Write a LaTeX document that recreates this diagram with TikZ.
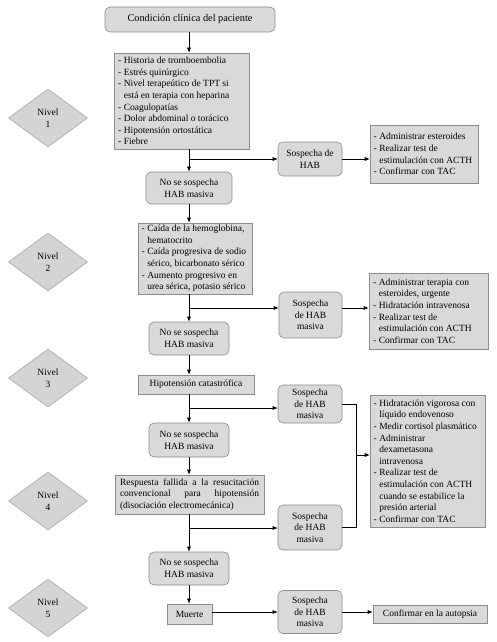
\documentclass[tikz,border=0pt]{standalone}
\usepackage{fontspec}
\setmainfont{Liberation Serif}
\newfontfamily\tnr{Liberation Serif}
\usetikzlibrary{shapes.geometric,arrows.meta}
\definecolor{boxfill}{HTML}{D9D9D9}
\definecolor{boxdraw}{HTML}{8C8C8C}
\definecolor{dfill}{HTML}{D4D4D4}
\definecolor{ddraw}{HTML}{A8A8A8}
\newcommand\fs{\tnr\fontsize{9.5}{11.6}\selectfont}
\newlength\dw
\setlength\dw{5.8pt}
% list helpers: first line of an item, continuation line, whole block
\newcommand\li[1]{\hbox to\hsize{\hbox to\dw{-\hss}#1\hss}}
\newcommand\lc[1]{\hbox to\hsize{\hskip\dw #1\hss}}
\newcommand\lblock[2]{\vbox{\hsize=#1\relax\fs #2}}
\begin{document}
\begin{tikzpicture}[x=1pt,y=-1pt,
  every node/.style={font=\fs, inner sep=0pt},
  rnd/.style={draw=boxdraw, fill=boxfill, rounded corners=5pt, align=center, line width=0.6pt},
  sq/.style={draw=boxdraw, fill=boxfill, line width=0.6pt},
  niv/.style={diamond, draw=ddraw, fill=dfill, minimum width=79pt, minimum height=58pt, align=center, inner sep=0pt, line width=0.6pt},
  arr/.style={-{Latex[length=5pt,width=4pt]}, line width=0.6pt},
  ln/.style={line width=0.6pt}]
\useasboundingbox (0,0) rectangle (497,642);
\fill[white] (0,0) rectangle (497,642);

% level diamonds
\node[niv] (d1) at (48,118) {Nivel\\1};
\node[niv] (d2) at (48,262) {Nivel\\2};
\node[niv] (d3) at (48,378) {Nivel\\3};
\node[niv] (d4) at (48,501) {Nivel\\4};
\node[niv] (d5) at (48,608) {Nivel\\5};

% main column
\node[rnd, minimum width=170pt, minimum height=25pt, font=\tnr\fontsize{10.3}{12}\selectfont] (top) at (190,19.5) {Condición clínica del paciente};
\node[sq, minimum width=135pt, minimum height=96pt] (b1) at (181.5,101) {\lblock{127pt}{%
\li{Historia de tromboembolia}
\li{Estrés quirúrgico}
\li{Nivel terapeútico de TPT si}
\lc{está en terapia con heparina}
\li{Coagulopatías}
\li{Dolor abdominal o torácico}
\li{Hipotensión ortostática}
\li{Fiebre}}};
\node[rnd, minimum width=86pt, minimum height=32pt] (n1) at (189,188) {No se sospecha\\HAB masiva};
\node[sq, minimum width=114pt, minimum height=71pt] (b2) at (195,258.5) {\lblock{107pt}{%
\li{Caída de la hemoglobina,}
\lc{hematocrito}
\li{Caída progresiva de sodio}
\lc{sérico, bicarbonato sérico}
\li{Aumento progresivo en}
\lc{urea sérica, potasio sérico}}};
\node[rnd, minimum width=80pt, minimum height=33pt] (n2) at (189,338.5) {No se sospecha\\HAB masiva};
\node[sq, minimum width=116pt, minimum height=19pt] (b3) at (196,384.5) {Hipotensión catastrófica};
\node[rnd, minimum width=80pt, minimum height=34pt] (n3) at (189,440) {No se sospecha\\HAB masiva};
\node[sq, minimum width=149pt, minimum height=39pt] (b4) at (189.5,494.5) {\lblock{139pt}{%
\hbox to\hsize{Respuesta fallida a la resucitación}
\hbox to\hsize{convencional para hipotensión}
\hbox to\hsize{(disociación electromecánica)\hss}}};
\node[rnd, minimum width=80pt, minimum height=33pt] (n4) at (189,568.5) {No se sospecha\\HAB masiva};
\node[sq, minimum width=45pt, minimum height=20pt] (b5) at (189.5,614) {Muerte};

% suspicion nodes
\node[rnd, minimum width=64pt, minimum height=34pt] (s1) at (310,159) {Sospecha de\\HAB};
\node[rnd, minimum width=63pt, minimum height=46pt] (s2) at (310.5,315) {Sospecha\\de HAB\\masiva};
\node[rnd, minimum width=64pt, minimum height=38pt] (s3) at (310,404) {Sospecha\\de HAB\\masiva};
\node[rnd, minimum width=64pt, minimum height=45pt] (s4) at (310,527.5) {Sospecha\\de HAB\\masiva};
\node[rnd, minimum width=64pt, minimum height=43pt] (s5) at (310,612) {Sospecha\\de HAB\\masiva};

% action boxes
\node[sq, minimum width=108pt, minimum height=58pt] (r1) at (424,154) {\lblock{101pt}{%
\li{Administrar esteroides}
\li{Realizar test de}
\lc{estimulación con ACTH}
\li{Confirmar con TAC}}};
\node[sq, minimum width=119pt, minimum height=76pt] (r2) at (428.5,311) {\lblock{111pt}{%
\li{Administrar terapia con}
\lc{esteroides, urgente}
\li{Hidratación intravenosa}
\li{Realizar test de}
\lc{estimulación con ACTH}
\li{Confirmar con TAC}}};
\node[sq, minimum width=115pt, minimum height=132pt] (r3) at (427.5,461) {\lblock{108pt}{%
\li{Hidratación vigorosa con}
\lc{líquido endovenoso}
\li{Medir cortisol plasmático}
\li{Administrar}
\lc{dexametasona}
\lc{intravenosa}
\li{Realizar test de}
\lc{estimulación con ACTH}
\lc{cuando se estabilice la}
\lc{presión arterial}
\li{Confirmar con TAC}}};
\node[sq, minimum width=114pt, minimum height=18pt] (r5) at (430,614) {Confirmar en la autopsia};

% junctions
\coordinate (j1) at (189,159);
\coordinate (j2) at (189,308);
\coordinate (j3) at (189,408);
\coordinate (j4) at (189,528);
\coordinate (j5) at (189,612);
\coordinate (m) at (356,455);

% vertical flow
\draw[arr] (n1 |- top.south) -- (n1 |- b1.north);
\draw[arr] (n1 |- b1.south) -- (n1.north);
\draw[arr] (n1.south) -- (n1 |- b2.north);
\draw[arr] (n2 |- b2.south) -- (n2.north);
\draw[arr] (n2.south) -- (n2 |- b3.north);
\draw[arr] (n3 |- b3.south) -- (n3.north);
\draw[arr] (n3.south) -- (n3 |- b4.north);
\draw[arr] (n4 |- b4.south) -- (n4.north);
\draw[arr] (n4.south) -- (n4 |- b5.north);

% branches
\draw[arr] (j1) -- (j1 -| s1.west);
\draw[arr] (j1 -| s1.east) -- (j1 -| r1.west);
\draw[arr] (j2) -- (j2 -| s2.west);
\draw[arr] (j2 -| s2.east) -- (j2 -| r2.west);
\draw[arr] (j3) -- (j3 -| s3.west);
\draw[arr] (j4) -- (j4 -| s4.west);
\draw[ln] (s3.east) -- (s3.east -| m) -- (s4.east -| m) -- (s4.east);
\draw[arr] (m) -- (m -| r3.west);
\draw[arr] (j5 -| b5.east) -- (j5 -| s5.west);
\draw[arr] (j5 -| s5.east) -- (j5 -| r5.west);
\end{tikzpicture}
\end{document}
